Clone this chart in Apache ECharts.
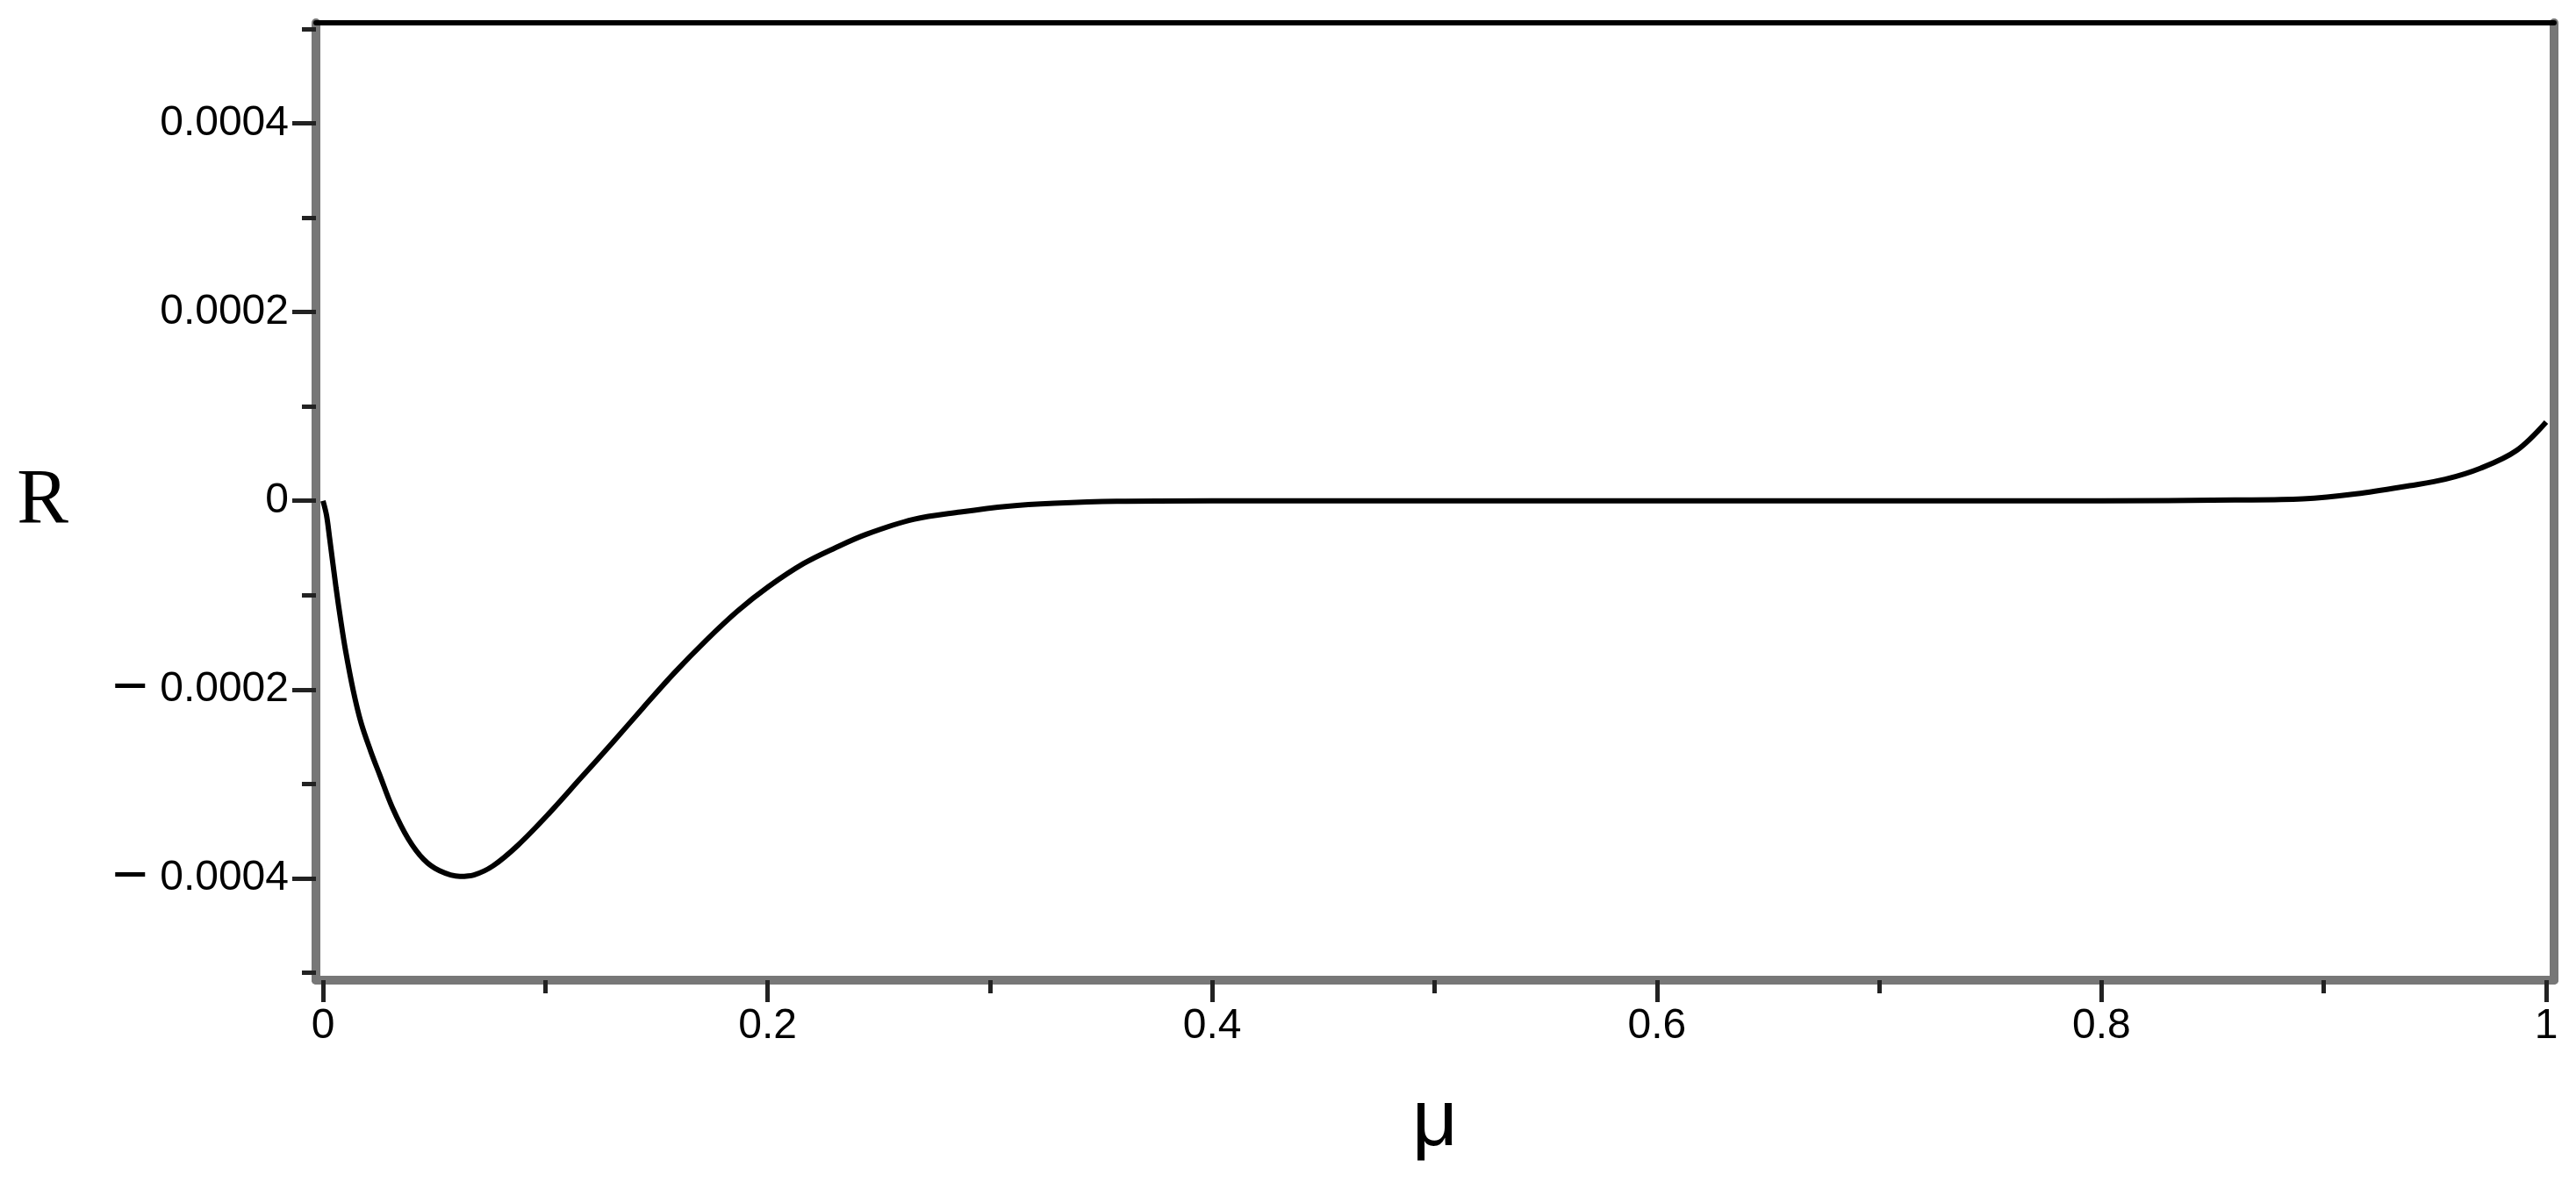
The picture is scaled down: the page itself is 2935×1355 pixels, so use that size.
<!DOCTYPE html>
<html>
<head>
<meta charset="utf-8">
<script src="https://cdn.jsdelivr.net/npm/echarts@6/dist/echarts.min.js"></script>
<style>
    html, body { margin: 0; padding: 0; background: #ffffff; }
    #graphDiv { width: 2935px; height: 1355px; }
</style>
</head>
<body>
<div id="graphDiv"></div>
<script>
// values
const muValues = [
    0, 0.0016, 0.003, 0.0059, 0.008, 0.0101, 0.0136, 0.0171, 0.0214, 0.0256,
    0.0312, 0.0383, 0.0453, 0.0524, 0.0616, 0.0679, 0.0764, 0.0877, 0.1018, 0.1159,
    0.13, 0.1441, 0.1582, 0.1723, 0.1864, 0.2004, 0.2162, 0.2303, 0.2444, 0.2656,
    0.2867, 0.3079, 0.329, 0.357, 0.4, 0.5, 0.6, 0.7, 0.8, 0.86,
    0.8906, 0.9146, 0.9386, 0.9546, 0.9706, 0.9866, 1.0
]
const rValues = [
    0, -0.0000155, -0.00004, -0.0000926, -0.000127, -0.000158, -0.000201, -0.000235, -0.000265, -0.000291,
    -0.000325, -0.000358, -0.00038, -0.000392, -0.000398, -0.0003965, -0.000387, -0.000365, -0.000331, -0.000294,
    -0.000257, -0.000219, -0.000182, -0.000148, -0.000117, -0.000091, -0.0000665, -0.00005, -0.0000355, -0.0000197,
    -0.0000119, -0.0000058, -0.0000026, -0.0000005, 0, 0, 0, 0, 0, 0.0000008,
    0.000002, 0.0000073, 0.000016, 0.0000228, 0.0000346, 0.0000532, 0.0000835
]

const xMajorTicks = [0, 0.2, 0.4, 0.6, 0.8, 1]
const xMinorTicks = [0.1, 0.3, 0.5, 0.7, 0.9]
const xTickLabels = ['0', '0.2', '0.4', '0.6', '0.8', '1']

const yMajorTicks = [-0.0004, -0.0002, 0, 0.0002, 0.0004]
const yMinorTicks = [-0.0005, -0.0003, -0.0001, 0.0001, 0.0003, 0.0005]
// the long minus is drawn a size larger through the rich style "m"
const yTickLabels = ['{m|\u2212} 0.0004', '{m|\u2212} 0.0002', '0', '0.0002', '0.0004']

const xName = '\u03bc'
const yName = 'R'

// the frame sits a little outside 0..1 and -0.0005..0.0005
const xMin = -0.00316
const xMax = 1.00355
const yMin = -0.000508
const yMax = 0.0005065

const tickFont = '"Liberation Sans", Arial, sans-serif'
const frameGray = '#777777'
const tickColor = '#222222'

function pickLabel(ticks, labels, value) {
    for (let i = 0; i < ticks.length; ++i) {
        if (Math.abs(ticks[i] - value) < 1e-9) {
            return labels[i]
        }
    }
    return ''
}

let graph = echarts.init(document.getElementById('graphDiv'), null, { renderer: 'canvas' })

let xAxis = [
    {
        // main axis with the long ticks and labels
        type: 'value',
        min: xMin,
        max: xMax,
        position: 'bottom',
        axisLine: { show: true, onZero: false, lineStyle: { color: frameGray, width: 10 } },
        axisTick: { show: true, customValues: xMajorTicks, length: 25, lineStyle: { color: tickColor, width: 5 } },
        axisLabel: {
            customValues: xMajorTicks,
            formatter: (v) => pickLabel(xMajorTicks, xTickLabels, v),
            fontFamily: tickFont,
            fontSize: 48,
            color: '#000000',
            margin: 29
        },
        splitLine: { show: false },
        name: xName,
        nameLocation: 'middle',
        nameGap: 118,
        nameTextStyle: { fontFamily: tickFont, fontSize: 90, color: '#000000' }
    },
    {
        // short ticks in between
        type: 'value',
        min: xMin,
        max: xMax,
        position: 'bottom',
        axisLine: { show: false, onZero: false },
        axisTick: { show: true, customValues: xMinorTicks, length: 15, lineStyle: { color: tickColor, width: 5 } },
        axisLabel: { show: false },
        splitLine: { show: false }
    },
    {
        // black top edge of the frame
        type: 'value',
        min: xMin,
        max: xMax,
        position: 'top',
        axisLine: { show: true, onZero: false, lineStyle: { color: '#000000', width: 6 } },
        axisTick: { show: false },
        axisLabel: { show: false },
        splitLine: { show: false }
    }
]

let yAxis = [
    {
        type: 'value',
        min: yMin,
        max: yMax,
        position: 'left',
        axisLine: { show: true, onZero: false, lineStyle: { color: frameGray, width: 10 } },
        axisTick: { show: true, customValues: yMajorTicks, length: 27, lineStyle: { color: tickColor, width: 5 } },
        axisLabel: {
            customValues: yMajorTicks,
            formatter: (v) => pickLabel(yMajorTicks, yTickLabels, v),
            fontFamily: tickFont,
            fontSize: 48,
            color: '#000000',
            margin: 31,
            rich: {
                m: { fontFamily: tickFont, fontSize: 70, color: '#000000', verticalAlign: 'middle' }
            }
        },
        splitLine: { show: false },
        name: yName,
        nameLocation: 'middle',
        nameRotate: 0,
        nameGap: 282,
        nameTextStyle: { fontFamily: '"Liberation Serif", "DejaVu Serif", serif', fontSize: 88, color: '#000000' }
    },
    {
        type: 'value',
        min: yMin,
        max: yMax,
        position: 'left',
        axisLine: { show: false, onZero: false },
        axisTick: { show: true, customValues: yMinorTicks, length: 16, lineStyle: { color: tickColor, width: 5 } },
        axisLabel: { show: false },
        splitLine: { show: false }
    },
    {
        // gray right edge of the frame
        type: 'value',
        min: yMin,
        max: yMax,
        position: 'right',
        axisLine: { show: true, onZero: false, lineStyle: { color: frameGray, width: 10 } },
        axisTick: { show: false },
        axisLabel: { show: false },
        splitLine: { show: false }
    }
]

let options = {
    animation: false,
    backgroundColor: '#ffffff',
    grid: {
        left: 360,
        right: 25,
        top: 26,
        bottom: 238,
        containLabel: false,
        outerBoundsMode: 'none'
    },
    xAxis: xAxis,
    yAxis: yAxis,
    series: [
        {
            type: 'line',
            xAxisIndex: 0,
            yAxisIndex: 0,
            data: muValues.map((mu, idx) => [mu, rValues[idx]]),
            showSymbol: false,
            smooth: 0.35,
            lineStyle: { color: '#000000', width: 6 },
            z: 1
        }
    ]
}

graph.setOption(options)
</script>
</body>
</html>
